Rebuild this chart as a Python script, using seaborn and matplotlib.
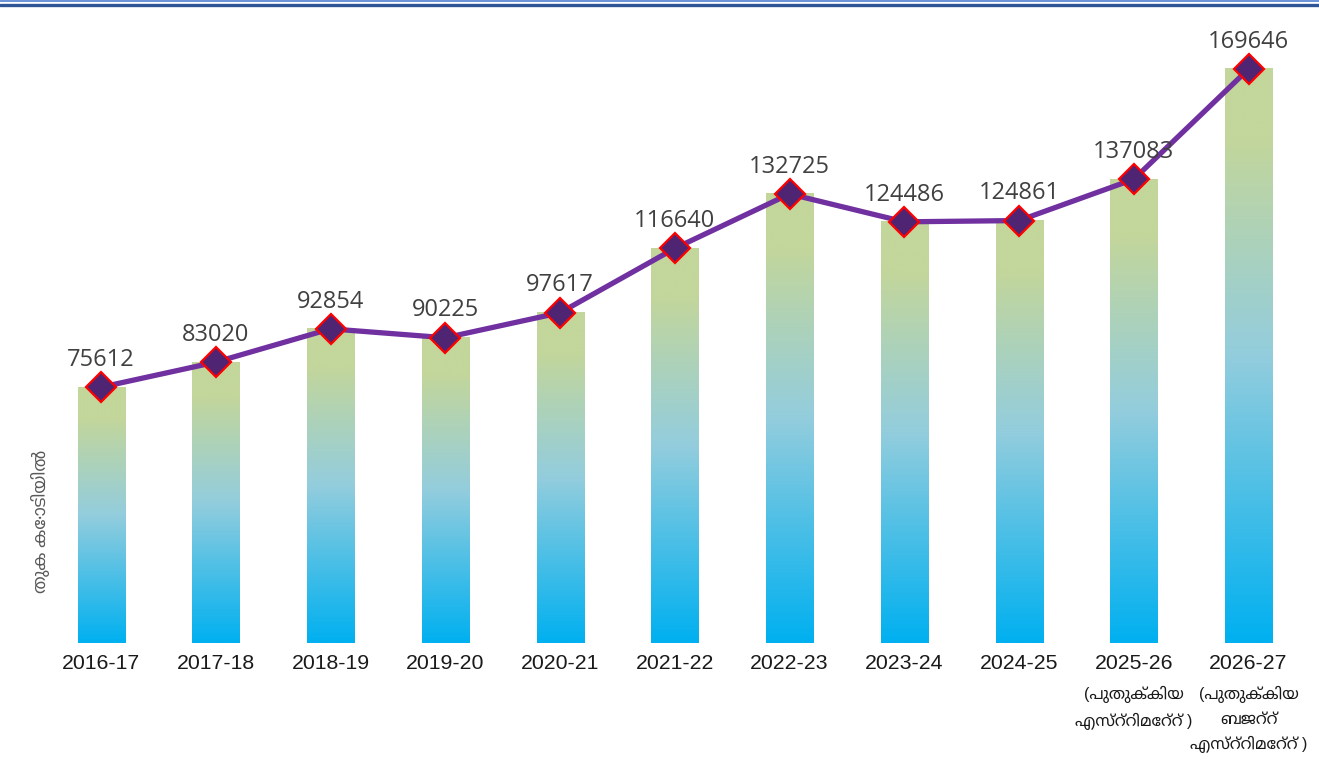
import numpy as np
import pandas as pd
import matplotlib
matplotlib.use("Agg")
import matplotlib.pyplot as plt
from matplotlib.colors import LinearSegmentedColormap
from matplotlib.lines import Line2D
from matplotlib import font_manager, ft2font
import seaborn as sns

# ---------------- data ----------------
years = ["2016-17", "2017-18", "2018-19", "2019-20", "2020-21", "2021-22",
         "2022-23", "2023-24", "2024-25", "2025-26", "2026-27"]
notes = ["", "", "", "", "", "", "", "", "",
         "(പുതുക്കിയ\nഎസ്റ്റിമേറ്റ് )",
         "(പുതുക്കിയ\nബജറ്റ്\nഎസ്റ്റിമേറ്റ് )"]
values = [75612, 83020, 92854, 90225, 97617, 116640,
          132725, 124486, 124861, 137083, 169646]
y_label = "തുക കോടിയിൽ"

# ---------------- fonts ----------------
def families_with(ch):
    code = ord(ch)
    found = []
    for f in font_manager.fontManager.ttflist:
        try:
            cm = ft2font.FT2Font(f.fname).get_charmap()
        except Exception:
            continue
        if code in cm and f.name not in found:
            found.append(f.name)
    def rank(n):
        r = 0
        if "malayalam" in n.lower():
            r -= 10
        if "noto" in n.lower():
            r -= 2
        if "mono" in n.lower():
            r += 5
        return r
    return sorted(found, key=rank)

ml_found = families_with("ത")
ml_fams = ["Liberation Sans"] + ml_found[:1] + ["DejaVu Sans"]

sns.set_theme(style="white")
plt.rcParams["font.family"] = ml_fams

df = pd.DataFrame({"year": years, "value": values, "pos": np.arange(len(values))})

fig = plt.figure(figsize=(13.19, 7.69), dpi=100)
ax = fig.add_axes([0.0331, 0.1638, 0.957, 0.792])

sns.barplot(data=df, x="year", y="value", ax=ax, width=0.41,
            color="#00b0f0", saturation=1, zorder=1)

cmap = LinearSegmentedColormap.from_list(
    "grad", [(0.0, "#00b0f0"), (0.5, "#93cddd"), (0.88, "#c3d69b"), (1.0, "#c3d69b")])
grad = np.linspace(0, 1, 256).reshape(-1, 1)
for p in ax.patches:
    x0, y0 = p.get_x(), p.get_y()
    w, h = p.get_width(), p.get_height()
    p.set_facecolor("none")
    p.set_edgecolor("none")
    ax.imshow(grad, cmap=cmap, origin="lower", aspect="auto",
              extent=[x0, x0 + w, y0, y0 + h], zorder=1, interpolation="bilinear")

sns.lineplot(data=df, x="pos", y="value", ax=ax, color="#7030a0",
             linewidth=3.8, zorder=3, marker="D", markersize=15,
             markerfacecolor="#4f2573", markeredgecolor="#ff0000",
             markeredgewidth=1.6)

for i, v in enumerate(values):
    ax.annotate(f"{v}", (i, v), xytext=(0, 11), textcoords="offset points",
                ha="center", va="bottom", fontsize=17, color="#404040",
                family=["Open Sans", "DejaVu Sans"], zorder=5)

ax.set_xlim(-0.5, len(values) - 0.5)
ax.set_ylim(0, 180000)
ax.set_xlabel("")
ax.set_ylabel("")
ax.set_yticks([])
ax.set_xticks(range(len(values)))
ax.set_xticklabels(years, fontsize=15.3, color="#1a1a1a", family=ml_fams)
ax.tick_params(axis="x", length=0, pad=8)
for s in ax.spines.values():
    s.set_visible(False)

# Malayalam notes under the last two year labels
for i, n in enumerate(notes):
    if n:
        ax.annotate(n, (i, 0), xycoords="data", xytext=(0, -31),
                    textcoords="offset points", ha="center", va="top",
                    fontsize=11.5, color="#1a1a1a", linespacing=1.72,
                    family=ml_fams, annotation_clip=False)

fig.text(0.031, 0.322, y_label, rotation=90, ha="center", va="center",
         fontsize=12.5, color="#595959", family=ml_fams)

# decorative top rules
fig.add_artist(Line2D([0, 1], [1 - 1.2 / 769, 1 - 1.2 / 769], transform=fig.transFigure,
                      color="#4f7fd0", linewidth=1.2))
fig.add_artist(Line2D([0, 1], [1 - 4.5 / 769, 1 - 4.5 / 769], transform=fig.transFigure,
                      color="#2f5597", linewidth=2.4))

fig.savefig("out.png", dpi=100)
